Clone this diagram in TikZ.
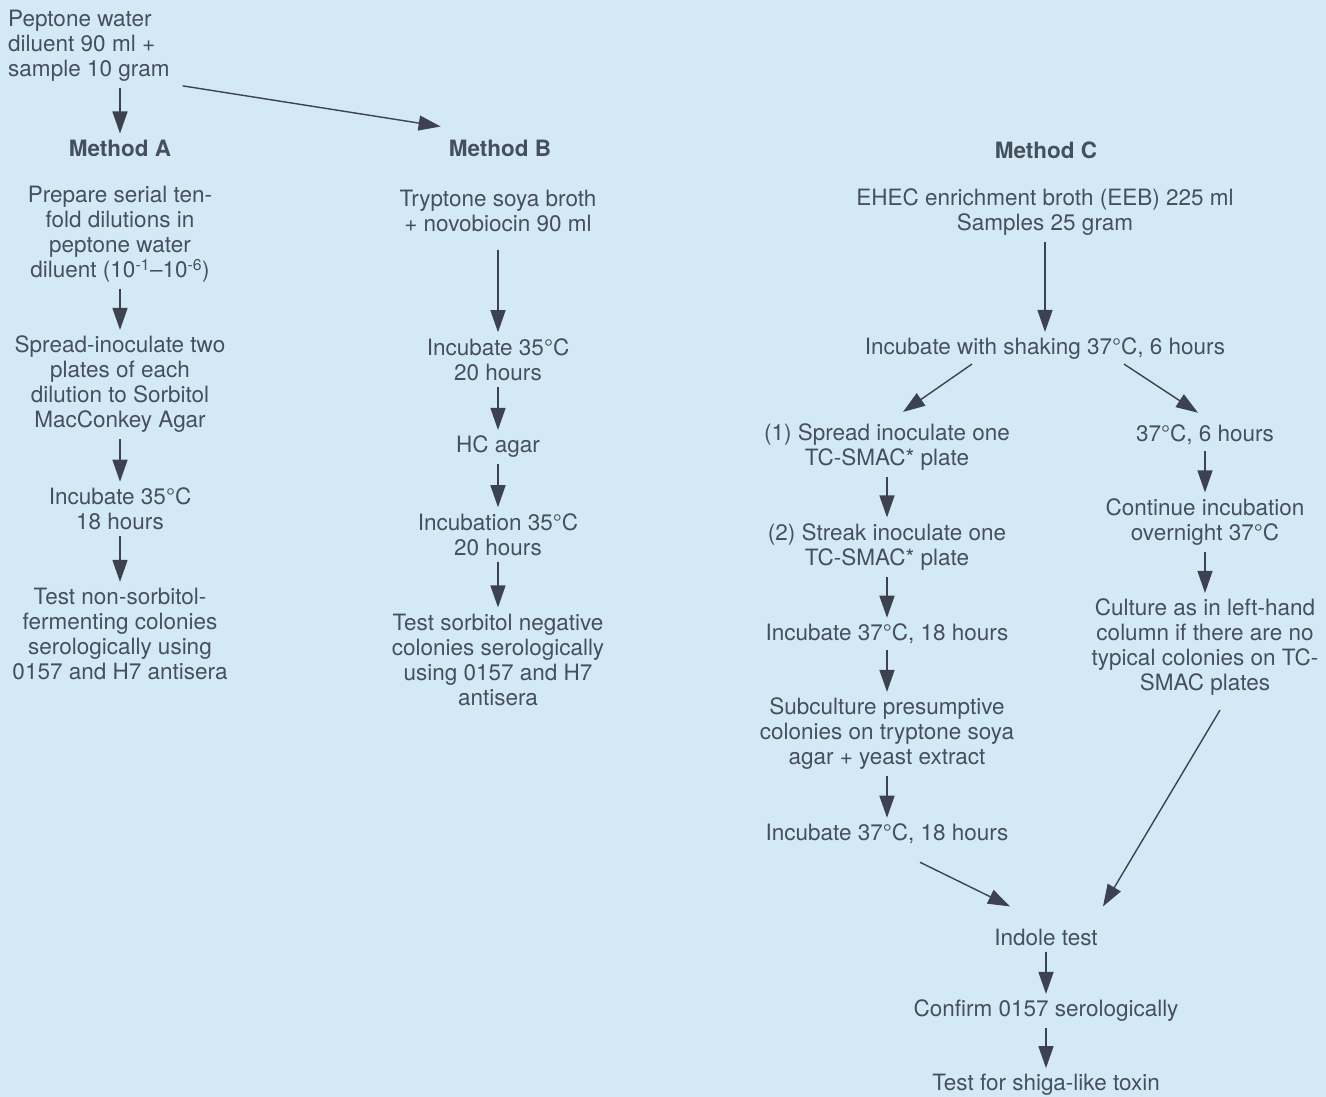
\documentclass[tikz,border=0pt]{standalone}
\usepackage{fontspec}
\setmainfont{TeX Gyre Heros}
\usetikzlibrary{arrows.meta}
\definecolor{bgblue}{RGB}{212,233,246}
\definecolor{inkgrey}{RGB}{70,80,92}
\definecolor{arrowgrey}{RGB}{60,66,80}
\tikzset{%
  stage/.style  = {align=center, inner sep=6pt, text=inkgrey},%
  method/.style = {stage, font=\fontsize{22.5pt}{25pt}\selectfont\bfseries},%
  flow/.style   = {draw=arrowgrey, line width=1.4pt,%
                   -{Triangle[length=22pt,width=15pt]}}%
}

\begin{document}
\begin{tikzpicture}[x=1pt,y=-1pt,every node/.style = {font=\fontsize{22.5pt}{25pt}\selectfont}]
		\fill[bgblue] (0,0) rectangle (1326,1097);
		\useasboundingbox (0,0) rectangle (1326,1097);
		\node [stage,align=left,anchor=west] (pep) at (2,46) {Peptone water\\diluent 90 ml +\\sample 10 gram};
		\node [method] (mA) at (120,148) {Method A};
		\node [method] (mB) at (500,148) {Method B};
		\node [method] (mC) at (1046,150) {Method C};
		% Method A
		\node [stage] (a1) at (120,234.5) {Prepare serial ten-\\fold dilutions in\\peptone water\\diluent (10\textsuperscript{-1}–10\textsuperscript{-6})};
		\node [stage] (a2) at (120,384.5) {Spread-inoculate two\\plates of each\\dilution to Sorbitol\\MacConkey Agar};
		\node [stage] (a3) at (120,509) {Incubate 35°C\\18 hours};
		\node [stage] (a4) at (120,634) {Test non-sorbitol-\\fermenting colonies\\serologically using\\0157 and H7 antisera};
		% Method B
		\node [stage] (b1) at (498,210.5) {Tryptone soya broth\\+ novobiocin 90 ml};
		\node [stage] (b2) at (498,359.5) {Incubate 35°C\\20 hours};
		\node [stage] (b3) at (498,447) {HC agar};
		\node [stage] (b4) at (498,534.5) {Incubation 35°C\\20 hours};
		\node [stage] (b5) at (498,659.5) {Test sorbitol negative\\colonies serologically\\using 0157 and H7\\antisera};
		% Method C
		\node [stage] (c1) at (1045,212) {EHEC enrichment broth (EEB) 225 ml\\Samples 25 gram};
		\node [stage] (c2) at (1045,349) {Incubate with shaking 37°C, 6 hours};
		\node [stage] (c3) at (887,447.5) {(1) Spread inoculate one\\TC-SMAC* plate};
		\node [stage] (c4) at (887,547) {(2) Streak inoculate one\\TC-SMAC* plate};
		\node [stage] (c5) at (887,634) {Incubate 37°C, 18 hours};
		\node [stage] (c6) at (887,734) {Subculture presumptive\\colonies on tryptone soya\\agar + yeast extract};
		\node [stage] (c7) at (887,834) {Incubate 37°C, 18 hours};
		\node [stage] (d1) at (1205,435) {37°C, 6 hours};
		\node [stage] (d2) at (1205,522) {Continue incubation\\overnight 37°C};
		\node [stage] (d3) at (1205,647.5) {Culture as in left-hand\\column if there are no\\typical colonies on TC-\\SMAC plates};
		\node [stage] (e1) at (1046,937) {Indole test};
		\node [stage] (e2) at (1046,1011) {Confirm 0157 serologically};
		\node [stage] (e3) at (1046,1085) {Test for shiga-like toxin};
		% connectors
		\draw [flow] (mA.north |- pep.south) -- (mA.north);
		\draw [flow] ([shift={(7,-2)}]pep.south east) -- ([shift={(-2,-7)}]mB.north west);
		\draw [flow] (a1) -- (a2);
		\draw [flow] (a2) -- (a3);
		\draw [flow] (a3) -- (a4);
		\draw [flow,shorten <=12pt] (b1) -- (b2);
		\draw [flow] (b2) -- (b3);
		\draw [flow] (b3) -- (b4);
		\draw [flow] (b4) -- (b5);
		\draw [flow] (c1.south -| c2.north) -- (c2.north);
		\draw [flow] ([shift={(-73,-2)}]c2.south) -- ([shift={(16,-6)}]c3.north);
		\draw [flow] ([shift={(79,-2)}]c2.south) -- ([shift={(-7,-6)}]d1.north);
		\draw [flow] (c3) -- (c4);
		\draw [flow] (c4) -- (c5);
		\draw [flow] (c5) -- (c6);
		\draw [flow] (c6) -- (c7);
		\draw [flow] (d1) -- (d2);
		\draw [flow] (d2) -- (d3);
		\draw [flow] ([shift={(33,12)}]c7.south) -- ([shift={(-36,-16)}]e1.north);
		\draw [flow] ([shift={(15,8)}]d3.south) -- ([shift={(57,-16)}]e1.north);
		\draw [flow] (e1) -- (e2);
		\draw [flow] (e2) -- (e3);
	\end{tikzpicture}
\end{document}
